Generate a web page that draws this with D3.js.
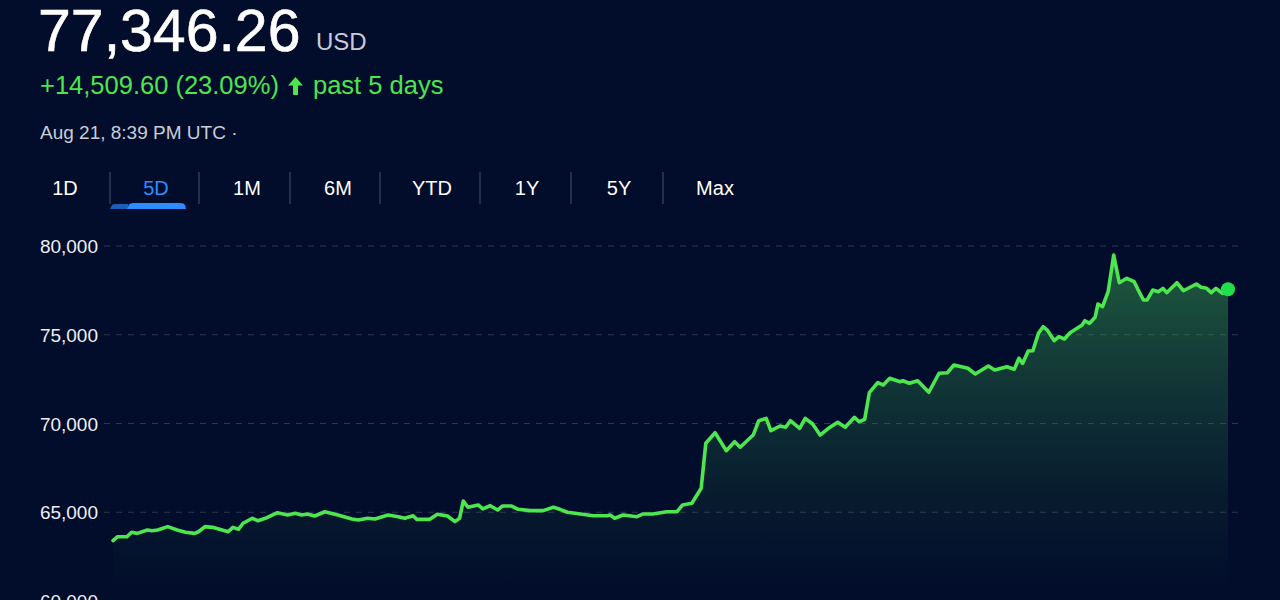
<!DOCTYPE html>
<html>
<head>
<meta charset="utf-8">
<script src="https://cdn.jsdelivr.net/npm/d3@7"></script>
<style>
    html, body { margin: 0; padding: 0; background: #020c2b; overflow: hidden; }
    #chart { width: 1280px; height: 600px; }
    text { font-family: "Liberation Sans", Arial, Helvetica, sans-serif; }
</style>
</head>
<body>
<div id="chart"></div>
<script>
// Price data (hours since start, price in USD)
const hours = [
    0, 0.5, 1.5, 2.0, 2.6, 3.7, 4.2, 4.8, 5.9, 6.9, 7.8, 8.8, 9.2, 9.9, 10.7, 12.4, 12.9, 13.5, 14.0, 15.0,
    15.6, 16.4, 17.7, 18.8, 19.6, 20.3, 20.9, 21.7, 22.8, 24.2, 25.7, 26.4, 27.4, 28.2, 29.6, 30.7, 31.4, 32.3, 32.7, 34.1,
    34.9, 36.0, 36.8, 37.3, 37.7, 38.2, 39.3, 39.8, 40.6, 41.4, 41.9, 42.9, 43.6, 44.9, 46.3, 47.4, 48.1, 48.9, 50.3, 51.7,
    53.2, 53.5, 54.0, 54.9, 56.4, 57.0, 58.1, 59.6, 60.7, 61.3, 62.3, 63.3, 63.8, 64.8, 66.0, 66.9, 67.5, 68.9, 69.5, 70.3,
    70.8, 71.8, 72.4, 72.9, 73.9, 74.5, 75.3, 76.1, 77.0, 78.0, 78.8, 79.8, 80.3, 80.9, 81.4, 82.3, 82.9, 83.6, 84.7, 85.0,
    85.7, 86.6, 87.8, 88.9, 89.8, 90.5, 92.0, 92.8, 94.2, 94.9, 96.2, 97.0, 97.5, 97.9, 98.5, 99.0, 99.6, 100.1, 100.6, 101.3,
    101.8, 102.4, 103.0, 104.3, 104.6, 105.1, 105.7, 106.0, 106.5, 107.1, 107.7, 108.3, 109.1, 109.9, 110.3, 110.9, 111.3, 111.9, 112.5, 113.0,
    113.4, 114.5, 115.2, 116.6, 117.1, 117.7, 118.2, 118.7, 119.4, 120
];
const prices = [
    63400, 63620, 63620, 63870, 63810, 64000, 63960, 64000, 64190, 64000, 63870, 63810, 63900, 64190, 64150, 63900, 64150, 64040, 64380, 64660,
    64520, 64660, 64975, 64845, 64940, 64845, 64900, 64790, 65030, 64845, 64620, 64560, 64660, 64620, 64845, 64750, 64660, 64805, 64600, 64600,
    64885, 64790, 64470, 64660, 65635, 65280, 65410, 65185, 65370, 65125, 65350, 65350, 65165, 65090, 65090, 65280, 65165, 65000, 64900, 64805,
    64805, 64845, 64660, 64845, 64750, 64900, 64900, 65030, 65030, 65410, 65505, 66350, 68885, 69480, 68470, 68975, 68660, 69350, 70160, 70290,
    69595, 69860, 69785, 70160, 69730, 70290, 69970, 69350, 69730, 70070, 69785, 70350, 70100, 70235, 71735, 72300, 72170, 72545, 72355, 72410,
    72265, 72410, 71760, 72830, 72860, 73295, 73110, 72790, 73240, 73015, 73200, 73055, 73675, 73390, 74085, 74100, 75080, 75455, 75230, 74665,
    74890, 74760, 75115, 75550, 75790, 75645, 75985, 76730, 76580, 77425, 79490, 77930, 78180, 77990, 77560, 76960, 76960, 77520, 77425, 77615,
    77370, 77930, 77480, 77860, 77675, 77615, 77370, 77615, 77335, 77560
];
const yTicks = [60000, 65000, 70000, 75000, 80000];
const tabs = ['1D', '5D', '1M', '6M', 'YTD', '1Y', '5Y', 'Max'];
const activeTab = '5D';

const width = 1280, height = 600;
const green = '#4de64e';

const svg = d3.select('#chart')
    .append('svg')
    .attr('width', width)
    .attr('height', height);

svg.append('rect')
    .attr('width', width)
    .attr('height', height)
    .attr('fill', '#020c2b');

// Header
svg.append('text')
    .attr('x', 38)
    .attr('y', 51)
    .attr('fill', '#ffffff')
    .attr('stroke', '#ffffff')
    .attr('stroke-width', 0.6)
    .style('font-size', '59px')
    .text('77,346.26');

svg.append('text')
    .attr('x', 316)
    .attr('y', 50)
    .attr('fill', '#c9ccd8')
    .style('font-size', '24px')
    .text('USD');

svg.append('text')
    .attr('x', 40)
    .attr('y', 94)
    .attr('fill', green)
    .style('font-size', '25.5px')
    .text('+14,509.60 (23.09%)');

// up arrow
svg.append('path')
    .attr('d', 'M295.5,77 L288,85.5 L293,85.5 L293,95 L298,95 L298,85.5 L303,85.5 Z')
    .attr('fill', green);

svg.append('text')
    .attr('x', 313)
    .attr('y', 94)
    .attr('fill', green)
    .style('font-size', '25.5px')
    .text('past 5 days');

svg.append('text')
    .attr('x', 40)
    .attr('y', 139)
    .attr('fill', '#c9cdd6')
    .style('font-size', '19px')
    .text('Aug 21, 8:39 PM UTC \u00b7');

// Range tabs
const tabCenters = [65, 156, 247, 338, 432, 527, 619, 715];
const tabG = svg.append('g');

tabG.selectAll('.tab')
    .data(tabs)
    .enter()
    .append('text')
    .attr('class', 'tab')
    .attr('x', (d, i) => tabCenters[i])
    .attr('y', 195)
    .attr('text-anchor', 'middle')
    .attr('fill', d => d === activeTab ? '#2d8cff' : '#ffffff')
    .style('font-size', '20px')
    .text(d => d);

const sepX = [110, 199, 290, 380, 480, 571, 663];
tabG.selectAll('.sep')
    .data(sepX)
    .enter()
    .append('line')
    .attr('x1', d => d)
    .attr('x2', d => d)
    .attr('y1', 172)
    .attr('y2', 204)
    .attr('stroke', '#4a5268')
    .attr('stroke-width', 1);

// active tab underline (with the trailing piece of the slide animation)
tabG.append('path')
    .attr('d', 'M110,209 L112,205 Q113,204 116,204 L128,204 L128,209 Z')
    .attr('fill', '#1c5fb8');
tabG.append('path')
    .attr('d', 'M127,209 L129,204.5 Q130,203 134,203 L180,203 Q184,203 185,205 L186,209 Z')
    .attr('fill', '#2d8cff');

// Chart
const x = d3.scaleLinear()
    .domain([0, 120])
    .range([113, 1228]);

const y = d3.scaleLinear()
    .domain([60000, 80000])
    .range([601, 246]);

const data = hours.map((h, i) => ({ h: h, v: prices[i] }));

const defs = svg.append('defs');
const grad = defs.append('linearGradient')
    .attr('id', 'areaFill')
    .attr('gradientUnits', 'userSpaceOnUse')
    .attr('x1', 0).attr('x2', 0)
    .attr('y1', 250).attr('y2', 600);
grad.append('stop').attr('offset', '0%').attr('stop-color', '#3fae55').attr('stop-opacity', 0.5);
grad.append('stop').attr('offset', '55%').attr('stop-color', '#2e8a4a').attr('stop-opacity', 0.22);
grad.append('stop').attr('offset', '100%').attr('stop-color', '#1d5a3c').attr('stop-opacity', 0.0);

// gridlines + y labels
const grid = svg.append('g');
grid.selectAll('.grid')
    .data(yTicks)
    .enter()
    .append('line')
    .attr('x1', 104)
    .attr('x2', 1240)
    .attr('y1', d => y(d))
    .attr('y2', d => y(d))
    .attr('stroke', '#2c3752')
    .attr('stroke-width', 1)
    .attr('stroke-dasharray', '6,6');

grid.selectAll('.ylabel')
    .data(yTicks)
    .enter()
    .append('text')
    .attr('x', 98)
    .attr('y', d => y(d) + 7)
    .attr('text-anchor', 'end')
    .attr('fill', '#eef0f4')
    .style('font-size', '19px')
    .text(d => d3.format(',')(d));

const area = d3.area()
    .x(d => x(d.h))
    .y0(height)
    .y1(d => y(d.v));

const line = d3.line()
    .x(d => x(d.h))
    .y(d => y(d.v));

svg.append('path')
    .datum(data)
    .attr('d', area)
    .attr('fill', 'url(#areaFill)');

svg.append('path')
    .datum(data)
    .attr('d', line)
    .attr('fill', 'none')
    .attr('stroke', green)
    .attr('stroke-width', 3.6)
    .attr('stroke-linejoin', 'round')
    .attr('stroke-linecap', 'round');

const last = data[data.length - 1];
svg.append('circle')
    .attr('cx', x(last.h))
    .attr('cy', y(last.v))
    .attr('r', 7)
    .attr('fill', '#1fe04c');
</script>
</body>
</html>
